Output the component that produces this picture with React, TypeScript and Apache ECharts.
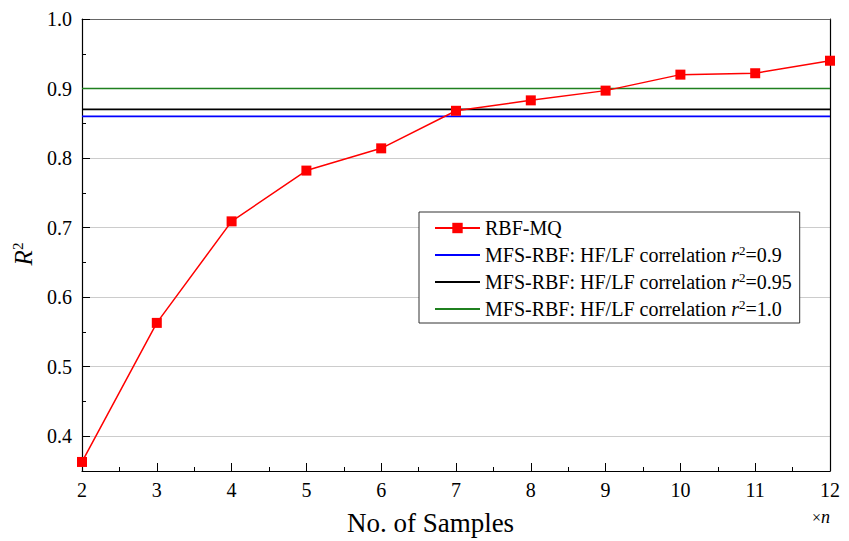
import React, { useEffect, useRef } from "react";
import * as echarts from "echarts";

const samples = [2, 3, 4, 5, 6, 7, 8, 9, 10, 11, 12];
const rbfMq = [0.363, 0.563, 0.709, 0.782, 0.814, 0.868, 0.883, 0.897, 0.92, 0.922, 0.94];
const refNames = [
  "MFS-RBF: HF/LF correlation r2=0.9",
  "MFS-RBF: HF/LF correlation r2=0.95",
  "MFS-RBF: HF/LF correlation r2=1.0",
];
const refLevels = [0.86, 0.87, 0.9];
const refColors = ["#0000ff", "#000000", "#1f801f"];
const xRange = [2, 12];
const yRange = [0.35, 1.0];

const FONT = "Liberation Serif";

export default function App() {
  const ref = useRef<HTMLDivElement>(null);
  useEffect(() => {
    if (!ref.current) return;
    const chart = echarts.init(ref.current, null, { renderer: "svg" });
    const refSeries = refNames.map((name, i) => ({
      name,
      type: "line",
      data: xRange.map((x) => [x, refLevels[i]]),
      symbol: "none",
      lineStyle: { color: refColors[i], width: 1.6 },
      itemStyle: { color: refColors[i] },
      z: 2,
    }));
    chart.setOption({
      animation: false,
      backgroundColor: "#fff",
      textStyle: { fontFamily: FONT },
      grid: { left: 82, right: 19, top: 19, bottom: 68, containLabel: false },
      legend: {
        left: 419,
        top: 212,
        orient: "vertical",
        backgroundColor: "#fff",
        borderColor: "#333",
        borderWidth: 1,
        borderRadius: 0,
        padding: [5, 8, 3, 15],
        itemWidth: 45,
        itemHeight: 13,
        itemGap: 5,
        data: [
          { name: "RBF-MQ" },
          ...refNames.map((n) => ({ name: n, itemStyle: { opacity: 0 } })),
        ],
        formatter: (n: string) =>
          n.includes("r2=") ? n.replace("r2=", "{i|r}{s|2}=") : n,
        textStyle: {
          fontFamily: FONT,
          fontSize: 20,
          color: "#000",
          lineHeight: 22,
          rich: {
            i: { fontFamily: FONT, fontSize: 20, fontStyle: "italic", color: "#000", lineHeight: 22 },
            s: { fontFamily: FONT, fontSize: 13, color: "#000", verticalAlign: "top", lineHeight: 13 },
          },
        },
      },
      xAxis: [
        {
          type: "value",
          min: xRange[0],
          max: xRange[1],
          interval: 1,
          name: "No. of Samples",
          nameLocation: "middle",
          nameGap: 38,
          nameTextStyle: { fontFamily: FONT, fontSize: 27, color: "#000", padding: [0, 51, 0, 0] },
          axisLine: { lineStyle: { color: "#000", width: 1.2 } },
          axisTick: { inside: true, length: 8, lineStyle: { color: "#000" } },
          minorTick: { show: true, splitNumber: 2, length: 4, lineStyle: { color: "#000" } },
          axisLabel: { fontFamily: FONT, fontSize: 20, color: "#000", margin: 9 },
          splitLine: { show: false },
        },
        {
          type: "value",
          position: "top",
          min: xRange[0],
          max: xRange[1],
          axisLine: { show: true, lineStyle: { color: "#666", width: 1.2 } },
          axisTick: { show: false },
          axisLabel: { show: false },
          splitLine: { show: false },
        },
      ],
      yAxis: [
        {
          type: "value",
          min: yRange[0],
          max: yRange[1],
          minInterval: 0.1,
          maxInterval: 0.1,
          name: "{i|R}{s|2}",
          nameLocation: "middle",
          nameRotate: 90,
          nameGap: 40,
          nameTextStyle: {
            padding: [0, 18, 0, 0],
            rich: {
              i: { fontFamily: FONT, fontSize: 25, fontStyle: "italic", color: "#000", lineHeight: 27 },
              s: { fontFamily: FONT, fontSize: 15, color: "#000", verticalAlign: "top", lineHeight: 15 },
            },
          },
          axisLine: { show: true, lineStyle: { color: "#000", width: 1.2 } },
          axisTick: { inside: true, length: 8, lineStyle: { color: "#000" } },
          axisLabel: {
            fontFamily: FONT,
            fontSize: 20,
            color: "#000",
            margin: 10,
            formatter: (v: number) => (v === yRange[0] ? "" : v.toFixed(1)),
          },
          splitLine: { show: true, lineStyle: { color: "#cccccc", width: 1 } },
        },
        {
          type: "value",
          position: "left",
          min: yRange[0],
          max: yRange[1],
          interval: 0.05,
          axisLine: { show: false },
          axisTick: { inside: true, length: 4, lineStyle: { color: "#000" } },
          axisLabel: { show: false },
          splitLine: { show: false },
        },
        {
          type: "value",
          position: "right",
          min: yRange[0],
          max: yRange[1],
          axisLine: { show: true, lineStyle: { color: "#000", width: 1.2 } },
          axisTick: { show: false },
          axisLabel: { show: false },
          splitLine: { show: false },
        },
      ],
      graphic: [
        {
          type: "text",
          left: 812,
          top: 508,
          style: {
            text: "×{i|n}",
            fontFamily: FONT,
            fontSize: 16,
            fill: "#000",
            rich: { i: { fontFamily: FONT, fontSize: 18, fontStyle: "italic", fill: "#000" } },
          },
        },
      ],
      series: [
        {
          name: "RBF-MQ",
          type: "line",
          data: samples.map((x, i) => [x, rbfMq[i]]),
          symbol: "rect",
          symbolSize: 10,
          lineStyle: { color: "#ff0000", width: 1.5 },
          itemStyle: { color: "#ff0000" },
          z: 5,
        },
        ...refSeries,
      ],
    });
    return () => chart.dispose();
  }, []);
  return (
    <div
      ref={ref}
      style={{ position: "absolute", left: 0, top: 0, width: 849, height: 541 }}
    />
  );
}
